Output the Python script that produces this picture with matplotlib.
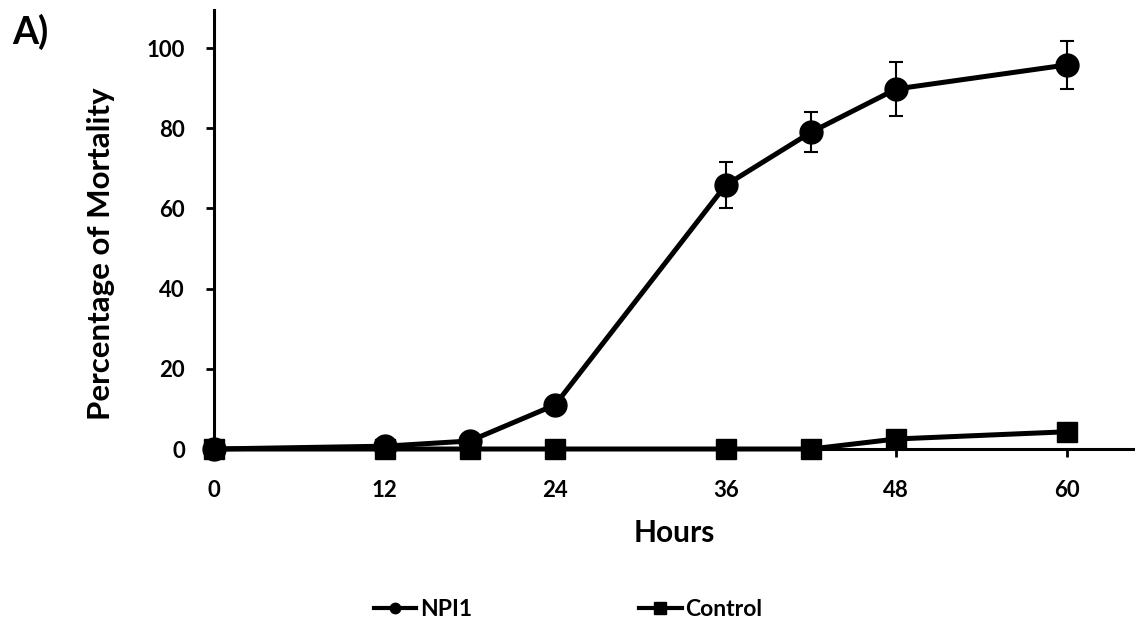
import numpy as np
import matplotlib.pyplot as plt
from matplotlib.lines import Line2D

plt.rcParams['font.family'] = ['Lato', 'DejaVu Sans']
plt.rcParams['font.weight'] = 'bold'

hours_npi = [0, 12, 18, 24, 36, 42, 48, 60]
npi1 = [0, 0.7, 2, 11, 65.8, 79, 89.8, 95.8]
npi1_err = [0, 0, 0, 0, 5.8, 5, 6.7, 5.9]

hours_ctrl = [0, 12, 18, 24, 36, 42, 48, 60]
control = [0, 0, 0, 0, 0, 0, 2.5, 4.3]

x_ticks = [0, 12, 24, 36, 48, 60]
y_ticks = [0, 20, 40, 60, 80, 100]

W, H = 1135, 631
fig = plt.figure(figsize=(W / 100, H / 100), dpi=100)
ax = fig.add_axes([214 / W, 1 - 449 / H, 1 - 214 / W, 439 / H])

ax.plot(hours_ctrl, control, color='black', lw=3.6, marker='s', ms=14,
        clip_on=False, zorder=3)
ax.errorbar(hours_npi, npi1, yerr=npi1_err, color='black', lw=3.6, marker='o',
            ms=16.5, ecolor='black', elinewidth=1.5, capsize=4.7, capthick=1.5,
            clip_on=False, zorder=4)

ax.set_xlim(0, 64.8)
ax.set_ylim(0, 109.5)
ax.set_xticks(x_ticks)
ax.set_yticks(y_ticks)
ax.spines['top'].set_visible(False)
ax.spines['right'].set_visible(False)
ax.spines['left'].set_linewidth(2.2)
ax.spines['bottom'].set_linewidth(2.2)
ax.tick_params(direction='out', length=6, width=2, labelsize=16)
ax.tick_params(axis='y', pad=15)
ax.tick_params(axis='x', pad=16)

ax.set_xlabel('Hours', fontsize=21.5, fontweight='bold', labelpad=13)
ax.set_ylabel('Percentage of Mortality', fontsize=22.5, fontweight='bold')
ax.yaxis.set_label_coords(-0.107, 0.446)

fig.text(12 / W, 1 - 44 / H, 'A)', fontsize=27, fontweight='bold', va='baseline')

handles = [
    Line2D([], [], color='black', lw=3, marker='o', ms=7.5),
    Line2D([], [], color='black', lw=3, marker='s', ms=8),
]
fig.legend(handles, ['NPI1', 'Control'], loc='center left',
           bbox_to_anchor=(374 / W, 1 - 610 / H), ncol=2, frameon=False,
           borderpad=0, borderaxespad=0, handlelength=1.85, handletextpad=0.15,
           columnspacing=7.3, prop={'size': 16.5, 'weight': 'bold'})

fig.savefig('out.png', dpi=100)
